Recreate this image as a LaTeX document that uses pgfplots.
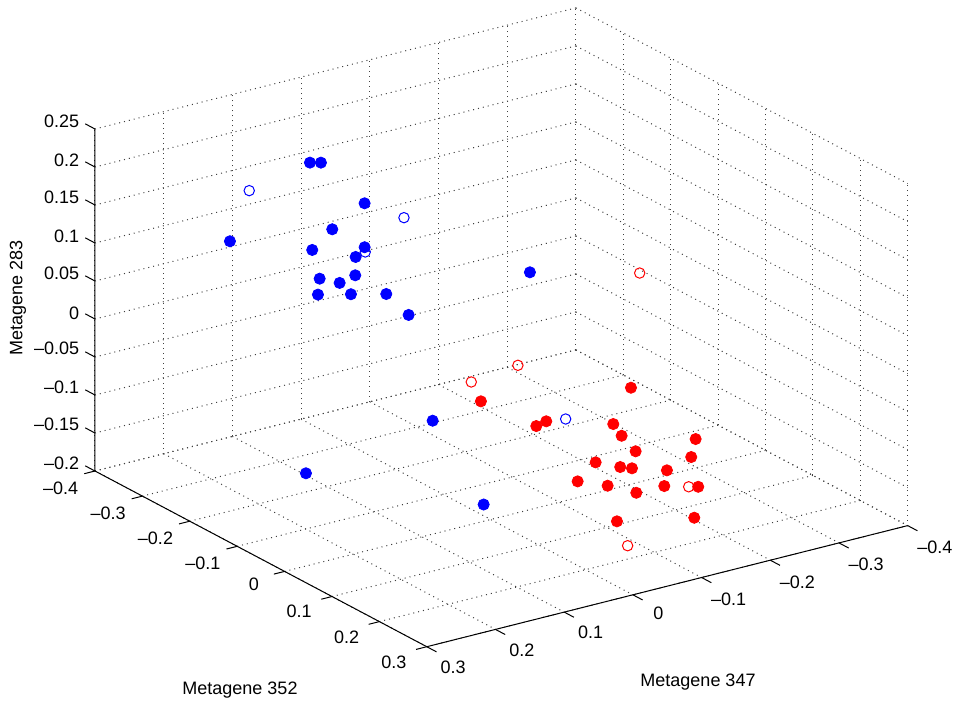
\documentclass[border=0pt]{standalone}
\usepackage{pgfplots}
\pgfplotsset{compat=1.18}
\usepackage{fontspec}
\setmainfont{Liberation Sans}

\begin{document}
\begin{tikzpicture}[font=\fontsize{9}{11}\selectfont]
\begin{axis}[
  x={(-343.5pt,-86.5pt)}, y={(237pt,-125.5pt)}, z={(0pt,380pt)},
  xmin=-0.4, xmax=0.3, ymin=-0.4, ymax=0.3, zmin=-0.2, zmax=0.25,
  xtick={-0.4,-0.3,-0.2,-0.1,0,0.1,0.2,0.3},
  xticklabels={--0.4,--0.3,--0.2,--0.1,0,0.1,0.2,0.3},
  ytick={-0.4,-0.3,-0.2,-0.1,0,0.1,0.2,0.3},
  yticklabels={--0.4,--0.3,--0.2,--0.1,0,0.1,0.2,0.3},
  ztick={-0.2,-0.15,-0.1,-0.05,0,0.05,0.1,0.15,0.2,0.25},
  zticklabels={--0.2,--0.15,--0.1,--0.05,0,0.05,0.1,0.15,0.2,0.25},
  xticklabel style={xshift=4pt},
  yticklabel style={xshift=-5pt, yshift=2pt},
  grid=major,
  major grid style={black!75, line width=0.5pt, dash pattern=on 0.5pt off 2pt},
  tick align=outside, major tick length=5pt,
  tick style={draw=none},
  axis line style={draw=none},
  clip=false,
]
% open markers first
\addplot3[only marks, mark=o, mark size=2.6pt, blue, mark options={line width=0.5pt}] coordinates {
(0.1273,-0.3249,0.1544) (-0.0112,-0.1992,0.1288) (0.0449,-0.1996,0.0963) (-0.0655,0.0632,-0.0618)
};
\addplot3[only marks, mark=o, mark size=2.6pt, red, mark options={line width=0.5pt}] coordinates {
(-0.2148,0.0030,0.0764) (-0.0465,-0.0100,-0.0110) (0.0082,-0.0291,-0.0268) (-0.1515,0.1981,-0.1260) (-0.0605,0.2012,-0.1818)
};
% filled markers
\addplot3[only marks, mark=*, mark size=2.8pt, blue, mark options={fill=blue, draw=blue}] coordinates {
(0.0528,-0.3048,0.1809) (0.0420,-0.2973,0.1809) (0.0201,-0.2369,0.1424) (0.0656,-0.2392,0.1178)
(0.1727,-0.2998,0.1064) (0.0961,-0.2372,0.0982) (0.0430,-0.2036,0.1008) (0.0570,-0.2023,0.0916)
(0.1038,-0.2104,0.0710) (0.0669,-0.1888,0.0742) (0.0863,-0.1936,0.0670) (0.1138,-0.1995,0.0559)
(0.0811,-0.1773,0.0563) (0.0461,-0.1535,0.0565) (0.0350,-0.1224,0.0367) (-0.1069,-0.0722,0.0771)
(0.0665,-0.0261,-0.0635) (0.2189,-0.0725,-0.1133) (0.0600,0.0721,-0.1428)
};
\addplot3[only marks, mark=*, mark size=2.8pt, red, mark options={fill=red, draw=red}] coordinates {
(-0.1463,0.0839,-0.0322) (0.0088,-0.0079,-0.0451) (-0.0452,0.0517,-0.0640) (-0.0329,0.0485,-0.0685)
(-0.1099,0.0993,-0.0666) (-0.1120,0.1139,-0.0777) (-0.1833,0.1667,-0.0808) (-0.1177,0.1352,-0.0924)
(-0.1695,0.1774,-0.0978) (-0.0725,0.1163,-0.1029) (-0.0943,0.1366,-0.1073) (-0.1052,0.1456,-0.1085)
(-0.1386,0.1709,-0.1104) (-0.0448,0.1185,-0.1209) (-0.0721,0.1422,-0.1250) (-0.0967,0.1670,-0.1317)
(-0.1278,0.1810,-0.1253) (-0.1609,0.2046,-0.1260) (-0.0627,0.1755,-0.1587) (-0.1408,0.2254,-0.1553)
};
\draw[black, line width=0.5pt] (axis cs:0.3,-0.4,0.25) -- (axis cs:0.3,-0.4,-0.2) -- (axis cs:0.3,0.3,-0.2) -- (axis cs:-0.4,0.3,-0.2);
\pgfplotsinvokeforeach{-0.4,-0.3,-0.2,-0.1,0,0.1,0.2,0.3}{
  \draw[black, line width=0.5pt] (axis cs:#1,0.3,-0.2) -- (axis cs:#1,0.3205,-0.2);
  \draw[black, line width=0.5pt] (axis cs:0.3,#1,-0.2) -- (axis cs:0.3156,#1,-0.2);
}
\pgfplotsinvokeforeach{-0.2,-0.15,-0.1,-0.05,0,0.05,0.1,0.15,0.2,0.25}{
  \draw[black, line width=0.5pt] (axis cs:0.3,-0.4,#1) -- (axis cs:0.3,-0.4205,#1);
}
\coordinate (C) at (axis cs:0.3,-0.4,-0.2);
\end{axis}
\node at ([shift={(72.5pt,-109.5pt)}]C) {Metagene 352};
\node at ([shift={(301.5pt,-105.5pt)}]C) {Metagene 347};
\node[rotate=90] at ([shift={(-38.5pt,86.5pt)}]C) {Metagene 283};
\pgfresetboundingbox
\path[use as bounding box] ([shift={(-47.5pt,-118pt)}]C) rectangle ([shift={(434pt,235.5pt)}]C);
\end{tikzpicture}
\end{document}
